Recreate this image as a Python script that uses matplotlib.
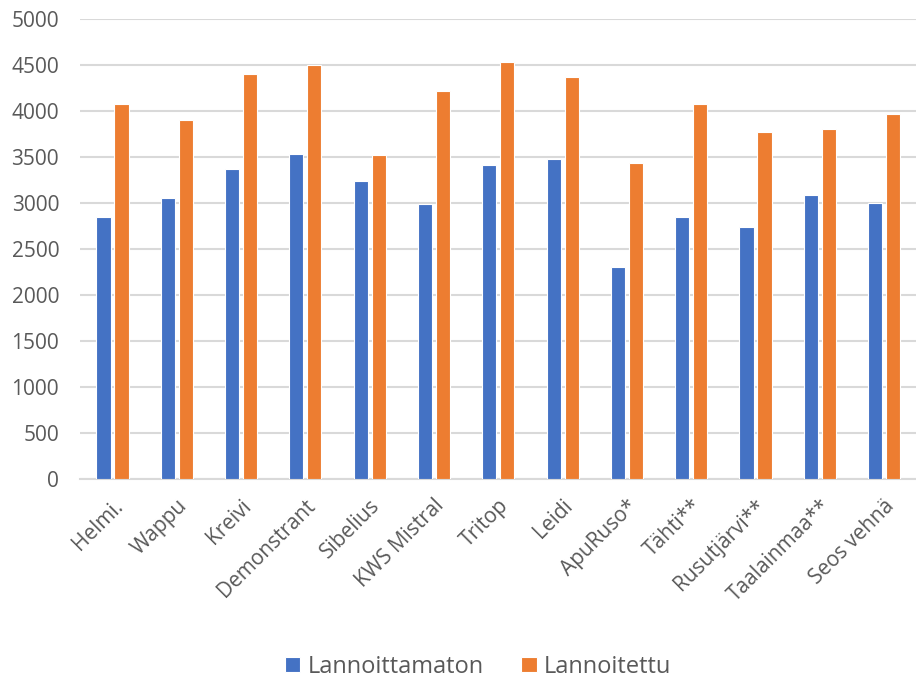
import numpy as np
import matplotlib.pyplot as plt

varieties = ["Helmi.", "Wappu", "Kreivi", "Demonstrant", "Sibelius", "KWS Mistral",
             "Tritop", "Leidi", "ApuRuso*", "Tähti**", "Rusutjärvi**", "Taalainmaa**",
             "Seos vehnä"]
lannoittamaton = [2850, 3050, 3365, 3535, 3235, 2990, 3410, 3475, 2300, 2850, 2735, 3090, 2995]
lannoitettu = [4080, 3900, 4405, 4500, 3520, 4215, 4530, 4370, 3435, 4075, 3775, 3800, 3965]

plt.rcParams["font.family"] = ["Open Sans", "DejaVu Sans"]

fig = plt.figure(figsize=(9.16, 6.77), dpi=100)
ax = fig.add_axes([80 / 916, 1 - 478.7 / 677, 1 - 80 / 916, (478.7 - 19) / 677])

x = np.arange(len(varieties))
w = 0.22
ax.bar(x - 0.135, lannoittamaton, w, color="#4472c4", edgecolor="white", linewidth=0.8,
       label="Lannoittamaton", zorder=3)
ax.bar(x + 0.145, lannoitettu, w, color="#ed7d31", edgecolor="white", linewidth=0.8,
       label="Lannoitettu", zorder=3)

ax.set_xlim(-0.5, len(varieties) - 0.5)
ax.set_ylim(0, 5000)
ax.set_yticks(np.arange(0, 5001, 500))
ax.grid(axis="y", color="#d9d9d9", linewidth=1.5, zorder=0)
for s in ["top", "right", "left"]:
    ax.spines[s].set_visible(False)
ax.spines["bottom"].set_color("#d9d9d9")
ax.spines["bottom"].set_linewidth(1.5)
ax.tick_params(axis="y", length=0, labelsize=15, labelcolor="#595959", pad=15)
ax.set_xticks(x)
ax.set_xticklabels(varieties, rotation=45, ha="right", rotation_mode="anchor")
ax.tick_params(axis="x", length=0, labelsize=15, labelcolor="#595959", pad=12)

fig.legend(loc="lower center", bbox_to_anchor=(0.522, -0.034), ncol=2, frameon=False,
           fontsize=17, labelcolor="#595959", handlelength=0.65, handleheight=0.65,
           columnspacing=1.6, handletextpad=0.3)

fig.savefig("out.png", dpi=100)
